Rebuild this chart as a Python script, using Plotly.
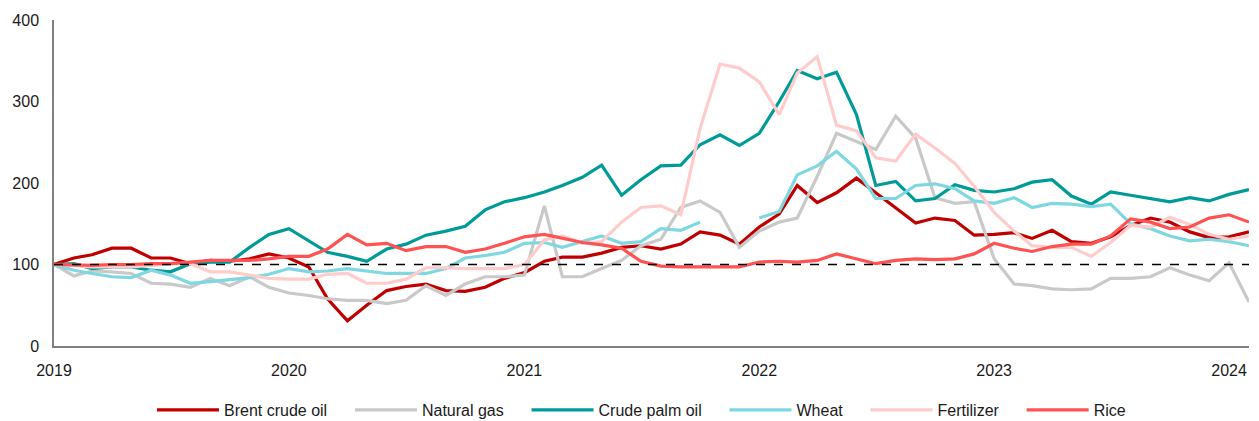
import pandas as pd
import plotly.graph_objects as go

months = pd.date_range("2019-01-01", "2024-02-01", freq="MS")

brent = [100, 108, 112, 120, 120, 108, 108, 101, 105, 104, 107, 113,
         108, 97, 58, 31, 50, 68, 73, 76, 68, 67, 72, 83,
         90, 104, 109, 109, 114, 121, 123, 119, 125, 140, 136, 125,
         146, 162, 197, 176, 188, 206, 188, 170, 151, 157, 154, 136,
         137, 139, 132, 142, 128, 126, 134, 148, 157, 152, 140, 133,
         134, 140]
natural_gas = [100, 86, 92, 91, 89, 77, 76, 72, 83, 74, 85, 72,
               65, 62, 58, 56, 56, 52, 56, 74, 62, 76, 85, 85,
               87, 172, 85, 85, 95, 105, 123, 131, 170, 178, 164, 121,
               141, 152, 157, 208, 261, 251, 241, 282, 255, 182, 175, 177,
               107, 76, 74, 70, 69, 70, 83, 83, 85, 96, 87, 80,
               102, 54]
palm_oil = [100, 101, 95, 97, 97, 93, 91, 101, 103, 103, 121, 137,
            144, 129, 115, 110, 104, 119, 125, 136, 141, 147, 167, 177,
            182, 189, 197, 207, 222, 185, 204, 221, 222, 247, 259, 246,
            261, 300, 338, 328, 336, 284, 197, 202, 178, 181, 198, 191,
            189, 193, 201, 204, 184, 174, 189, 185, 181, 177, 182, 178,
            186, 192]
wheat = [100, 93, 89, 85, 84, 93, 87, 77, 79, 81, 84, 88,
         95, 91, 92, 95, 92, 89, 89, 89, 95, 108, 111, 115,
         126, 127, 121, 128, 135, 126, 128, 144, 142, 152, None, None,
         157, 165, 210, 221, 239, 217, 181, 181, 197, 199, 193, 178,
         175, 182, 170, 175, 174, 171, 174, 150, 144, 135, 129, 131,
         128, 123]
fertilizer = [100, 98, 97, 97, 97, 99, 101, 101, 91, 91, 87, 83,
              82, 82, 88, 89, 77, 77, 82, 96, 96, 95, 95, 95,
              100, 130, 135, 126, 128, 152, 170, 172, 161, 267, 346, 341,
              324, 284, 335, 355, 271, 264, 231, 227, 260, 243, 224, 196,
              164, 141, 123, 121, 121, 110, 127, 148, 146, 158, 149, 137,
              131, 135]
rice = [100, 99, 99, 100, 100, 101, 101, 103, 105, 105, 105, 107,
        110, 110, 119, 137, 124, 126, 117, 122, 122, 115, 119, 126,
        134, 137, 132, 127, 124, 120, 104, 98, 97, 97, 97, 97,
        103, 104, 103, 105, 113, 107, 101, 105, 107, 106, 107, 113,
        126, 120, 116, 122, 125, 125, 135, 156, 152, 144, 146, 157,
        161, 152]

series = [
    ("Brent crude oil", brent, "#C00000"),
    ("Natural gas", natural_gas, "#C9C9C9"),
    ("Crude palm oil", palm_oil, "#009B98"),
    ("Wheat", wheat, "#7FD7E1"),
    ("Fertilizer", fertilizer, "#FFCCCC"),
    ("Rice", rice, "#FF5252"),
]

PAD = "\u00a0" * 4  # extra room after each legend label

fig = go.Figure()
for k, (name, values, color) in enumerate(series):
    label = name if k == len(series) - 1 else name + PAD
    fig.add_trace(go.Scatter(x=months, y=values, name=label, mode="lines",
                             line=dict(color=color, width=3.2),
                             connectgaps=False))

# 100 baseline
fig.add_shape(type="line", xref="paper", yref="y", x0=0, x1=1, y0=100, y1=100,
              line=dict(color="black", width=1.5, dash="dash"))

# page body adds an 8px margin, so the figure is sized to fit inside the window
fig.update_layout(
    width=1251, height=413,
    margin=dict(l=46, r=10, t=12, b=75, autoexpand=False),
    plot_bgcolor="white", paper_bgcolor="white",
    font=dict(family="Arial, Liberation Sans, sans-serif", size=16, color="#1a1a1a"),
    showlegend=True,
    legend=dict(orientation="h", x=0.082, xanchor="left", y=-0.196, yanchor="middle",
                font=dict(size=16), itemwidth=62, tracegroupgap=0),
    xaxis=dict(range=["2019-01-01", "2024-02-01"], tickformat="%Y", dtick="M12",
               tick0="2019-01-01", showgrid=False, showline=True,
               linecolor="#808080", linewidth=1.5, ticks="", zeroline=False,
               automargin=False, ticklabelstandoff=9),
    yaxis=dict(range=[0, 400], dtick=100, showgrid=False, showline=True,
               linecolor="#808080", linewidth=1.5, ticks="", zeroline=False,
               automargin=False, ticklabelstandoff=10),
)

fig.write_html("out.html")
